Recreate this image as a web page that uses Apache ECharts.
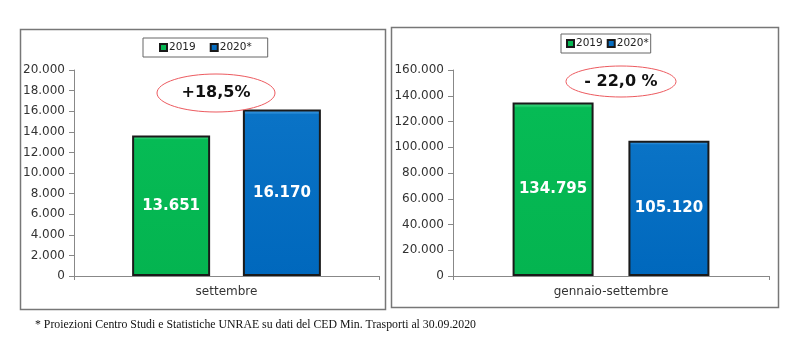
<!DOCTYPE html>
<html><head><meta charset="utf-8">
<script src="https://cdn.jsdelivr.net/npm/echarts@6/dist/echarts.min.js"></script>
<style>html,body{margin:0;padding:0;background:#fff}#c{width:800px;height:351px}</style>
</head><body><div id="c"></div>
<script>
var seriesNames = ['2019', '2020*'];
var leftCategories = ['settembre'];
var rightCategories = ['gennaio-settembre'];
var leftValues2019 = [13651];
var leftValues2020 = [16170];
var rightValues2019 = [134795];
var rightValues2020 = [105120];
var leftChange = '+18,5%';
var rightChange = '- 22,0 %';
var footnote = '* Proiezioni Centro Studi e Statistiche UNRAE su dati del CED Min. Trasporti al 30.09.2020';

function fmt(v){ return String(v).replace(/\B(?=(\d{3})+(?!\d))/g, '.'); }
var green = {type:'linear',x:0,y:0,x2:0,y2:1,colorStops:[{offset:0,color:'#4fdc8a'},{offset:0.025,color:'#1cc666'},{offset:0.03,color:'#06bb55'},{offset:1,color:'#04b450'}]};
var blue = {type:'linear',x:0,y:0,x2:0,y2:1,colorStops:[{offset:0,color:'#4aa3ea'},{offset:0.025,color:'#1e82d0'},{offset:0.03,color:'#0a73c6'},{offset:1,color:'#0068bd'}]};
var labelStyle = {show:true, position:'inside', color:'#fff', fontFamily:'DejaVu Sans', fontWeight:'bold', fontSize:15, formatter:function(p){return fmt(p.value);}};
function yAxis(idx, max, interval){
  return {type:'value', gridIndex:idx, min:0, max:max, interval:interval,
    axisLine:{show:true, lineStyle:{color:'#888'}}, axisTick:{show:true, length:5, lineStyle:{color:'#888'}},
    splitLine:{show:false},
    axisLabel:{fontFamily:'DejaVu Sans', fontSize:12, color:'#333', margin:9, formatter:fmt}};
}
function xAxis(idx, cats){
  return {type:'category', gridIndex:idx, data:cats,
    axisLine:{show:true, lineStyle:{color:'#888'}}, axisTick:{show:true, length:4, lineStyle:{color:'#888'}},
    axisLabel:{fontFamily:'DejaVu Sans', fontSize:12, color:'#333', margin:10}};
}
var legendCommon = {orient:'horizontal', backgroundColor:'#fff', borderColor:'#666', borderWidth:1,
  itemWidth:7, itemHeight:7, icon:'rect',
  textStyle:{fontFamily:'DejaVu Sans', fontSize:10.5, color:'#222', padding:[0,0,0,-3]}, selectedMode:false};
var chart = echarts.init(document.getElementById('c'));
chart.setOption({
  animation:false,
  grid:[{left:74, top:70, width:305, height:206},{left:453, top:70, width:316, height:206}],
  legend:[
    Object.assign({}, legendCommon, {left:143, top:38, itemGap:14, padding:[4,16,4,16], data:seriesNames}),
    Object.assign({}, legendCommon, {left:561, top:34, itemGap:4, padding:[4,2,4,5], data:seriesNames})
  ],
  xAxis:[xAxis(0, leftCategories), xAxis(1, rightCategories)],
  yAxis:[yAxis(0, 20000, 2000), yAxis(1, 160000, 20000)],
  series:[
    {name:seriesNames[0], type:'bar', xAxisIndex:0, yAxisIndex:0, data:leftValues2019, barWidth:78, barGap:'42%',
      itemStyle:{color:green, borderColor:'#1a1a1a', borderWidth:2}, label:labelStyle},
    {name:seriesNames[1], type:'bar', xAxisIndex:0, yAxisIndex:0, data:leftValues2020, barWidth:78, barGap:'42%',
      itemStyle:{color:blue, borderColor:'#1a1a1a', borderWidth:2}, label:labelStyle},
    {name:seriesNames[0], type:'bar', xAxisIndex:1, yAxisIndex:1, data:rightValues2019, barWidth:81, barGap:'43%',
      itemStyle:{color:green, borderColor:'#1a1a1a', borderWidth:2}, label:labelStyle},
    {name:seriesNames[1], type:'bar', xAxisIndex:1, yAxisIndex:1, data:rightValues2020, barWidth:81, barGap:'43%',
      itemStyle:{color:blue, borderColor:'#1a1a1a', borderWidth:2}, label:labelStyle}
  ],
  graphic:[
    {type:'rect', shape:{x:20.5, y:29.5, width:365, height:280}, style:{fill:'none', stroke:'#777', lineWidth:1.5}, z:-1},
    {type:'rect', shape:{x:391.5, y:27.5, width:387, height:280}, style:{fill:'none', stroke:'#777', lineWidth:1.5}, z:-1},
    {type:'ellipse', shape:{cx:216, cy:93, rx:59, ry:19}, style:{fill:'#fff', stroke:'#ec5a5f', lineWidth:1}, z:10},
    {type:'text', x:216, y:93, style:{text:leftChange, fontFamily:'DejaVu Sans', fontWeight:'bold', fontSize:16, fill:'#111', align:'center', verticalAlign:'middle'}, z:11},
    {type:'ellipse', shape:{cx:621, cy:81.5, rx:55, ry:15.5}, style:{fill:'#fff', stroke:'#ec5a5f', lineWidth:1}, z:10},
    {type:'text', x:621, y:82, style:{text:rightChange, fontFamily:'DejaVu Sans', fontWeight:'bold', fontSize:16, fill:'#111', align:'center', verticalAlign:'middle'}, z:11},
    {type:'text', x:35, y:325, style:{text:footnote, fontFamily:'Liberation Serif', fontSize:11.8, fill:'#111', verticalAlign:'middle'}}
  ]
});
</script></body></html>
